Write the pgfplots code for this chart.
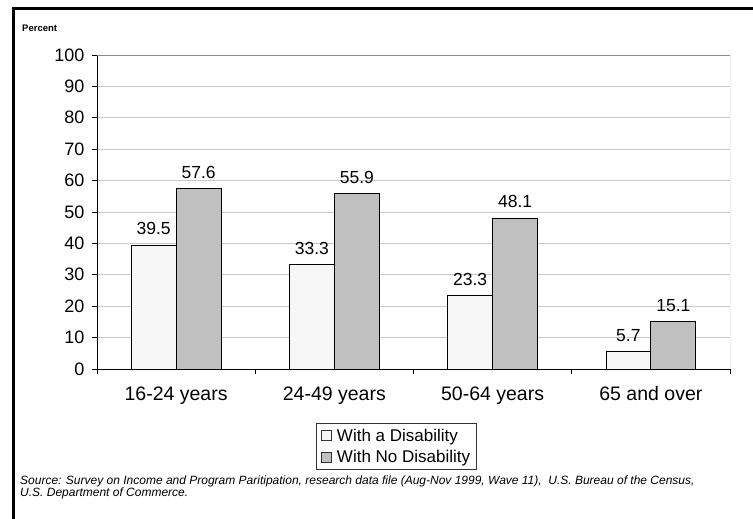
\documentclass[border=0pt]{standalone}
\usepackage{fontspec}
\setmainfont{Liberation Sans}
\usepackage{pgfplots}
\pgfplotsset{compat=1.18}
\definecolor{barwhite}{RGB}{246,246,246}
\definecolor{bargray}{RGB}{192,192,192}
\definecolor{gridgray}{RGB}{200,200,200}
\definecolor{framegray}{RGB}{140,140,140}
\begin{document}
\begin{tikzpicture}[x=1pt,y=1pt]
\useasboundingbox (0,0) rectangle (753,-519);
\fill[white] (0,0) rectangle (753,-519);
% outer frame (top and left only are visible)
\draw[line width=3.5pt] (13.5,-519) -- (13.5,-8.5) -- (753,-8.5);
\node[anchor=base west, inner sep=0pt, font=\bfseries\fontsize{9.5}{11}\selectfont] at (22,-31.5) {Percent};

\begin{axis}[
    at={(97pt,-369pt)}, anchor=south west,
    scale only axis, width=633pt, height=314pt,
    ybar,
    bar width=0.284,
    xmin=-0.5, xmax=3.5, ymin=0, ymax=100,
    enlarge x limits=false,
    xtick={-0.5,0.5,1.5,2.5,3.5},
    x tick label as interval,
    xticklabels={16-24 years,24-49 years,50-64 years,65 and over},
    ytick={0,10,...,100},
    axis x line*=bottom, axis y line*=left,
    axis line style={black, line width=0.8pt},
    tick align=outside, major tick length=5pt,
    tick style={black, line width=0.8pt},
    ymajorgrids, xmajorgrids=false,
    grid style={gridgray, line width=1pt},
    /pgf/number format/assume math mode=true,
    yticklabel style={font=\fontsize{18}{20}\selectfont, xshift=-4pt},
    xticklabel style={font=\fontsize{19.5}{22}\selectfont, yshift=-9pt},
    nodes near coords,
    nodes near coords style={font=\fontsize{17.5}{20}\selectfont, anchor=base, yshift=10pt,
        /pgf/number format/fixed, /pgf/number format/precision=1, /pgf/number format/fixed zerofill},
    legend style={at={(0.473,-0.247)}, anchor=center, draw=black!80, line width=0.6pt,
        font=\fontsize{17}{20}\selectfont, inner xsep=4pt, inner ysep=3pt,
        row sep=4pt, legend cell align=left},
    legend image code/.code={\draw[#1, draw=black!80, line width=0.6pt] (0pt,-5pt) rectangle (10pt,5pt);
        \path[draw=none, fill=none] (14pt,0pt) circle (0pt);},
]
\addplot[fill=barwhite, draw=black, line width=0.8pt, bar shift=-0.142]
    coordinates {(0,39.5) (1,33.3) (2,23.3) (3,5.7)};
\addplot[fill=bargray, draw=black, line width=0.8pt, bar shift=0.142]
    coordinates {(0,57.6) (1,55.9) (2,48.1) (3,15.1)};
\legend{With a Disability, With No Disability}
\draw[framegray, line width=1pt] (rel axis cs:0,1) -- (rel axis cs:1,1) -- (rel axis cs:1,0);
\end{axis}

\node[anchor=base west, inner sep=0pt, align=left, font=\itshape\fontsize{12}{11}\selectfont] at (20,-496.5)
  {Source: Survey on Income and Program Paritipation, research data file (Aug-Nov 1999, Wave 11),\ \ U.S. Bureau of the Census,\\
   U.S. Department of Commerce.};
\end{tikzpicture}
\end{document}
